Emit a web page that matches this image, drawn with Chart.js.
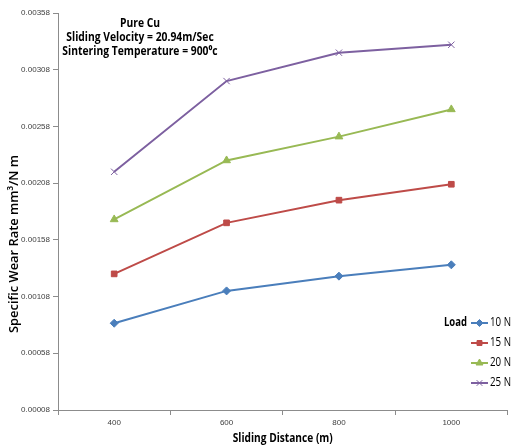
<!DOCTYPE html>
<html>
<head>
<meta charset="utf-8">
<script src="https://cdn.jsdelivr.net/npm/chart.js@4.4.0/dist/chart.umd.min.js"></script>
<style>
html,body{margin:0;padding:0;background:#fff;}
#wrap{width:513px;height:446px;position:relative;}
</style>
</head>
<body>
<div id="wrap"><canvas id="c" width="513" height="446"></canvas></div>
<script>
const distances = ['400', '600', '800', '1000'];
const seriesLabels = ['10 N', '15 N', '20 N', '25 N'];
const load10 = [0.000845, 0.00113, 0.00126, 0.00136];
const load15 = [0.00128, 0.00173, 0.00193, 0.00207];
const load20 = [0.00176, 0.00228, 0.00249, 0.00273];
const load25 = [0.00218, 0.00298, 0.00323, 0.00330];
const yTicks = [0.00008, 0.00058, 0.00108, 0.00158, 0.00208, 0.00258, 0.00308, 0.00358];
const titleLines = ['Pure Cu', 'Sliding Velocity = 20.94m/Sec', 'Sintering Temperature = 900\u2070c'];
const xTitle = 'Sliding Distance (m)';
const yTitle = 'Specific Wear Rate mm\u00B3/N m';
const legendTitle = 'Load';

const colors = ['#4A7EBB', '#BE4B48', '#98B954', '#7D60A0'];
const styles = ['rectRot', 'rect', 'triangle', 'crossRot'];
const radii = [4, 4, 4.5, 4.5];
const allSeries = [load10, load15, load20, load25];

const FONT = "'Open Sans', 'Liberation Sans', sans-serif";

function fitText(ctx, text, x, y, width) {
  const w = ctx.measureText(text).width;
  ctx.save();
  ctx.translate(x, y);
  ctx.scale(width / w, 1);
  ctx.fillText(text, 0, 0);
  ctx.restore();
}
function condText(ctx, text, x, y, factor) {
  ctx.save();
  ctx.translate(x, y);
  ctx.scale(factor, 1);
  ctx.fillText(text, 0, 0);
  ctx.restore();
}

const textPlugin = {
  id: 'texts',
  afterDraw(chart) {
    const ctx = chart.ctx;
    const ca = chart.chartArea;
    ctx.save();
    ctx.fillStyle = '#000';
    ctx.textAlign = 'center';
    ctx.textBaseline = 'middle';
    ctx.font = "bold 12px " + FONT;
    const ty = [24, 38, 52];
    titleLines.forEach((t, i) => condText(ctx, t, 140, ty[i], 0.86));
    // x title
    fitText(ctx, xTitle, (ca.left + ca.right) / 2, 439, 100);
    // y title
    ctx.save();
    ctx.translate(14, 244);
    ctx.rotate(-Math.PI / 2);
    ctx.font = "600 13px " + FONT;
    fitText(ctx, yTitle, 0, 0, 178);
    ctx.restore();
    // legend
    const rows = [323, 343, 363, 383];
    ctx.textAlign = 'left';
    ctx.font = "bold 12px " + FONT;
    fitText(ctx, legendTitle, 444, rows[0], 23);
    ctx.font = "12px " + FONT;
    chart.data.datasets.forEach((ds, i) => {
      const y = rows[i];
      ctx.strokeStyle = ds.borderColor;
      ctx.lineWidth = 2;
      ctx.beginPath();
      ctx.moveTo(471, y);
      ctx.lineTo(488, y);
      ctx.stroke();
      ctx.fillStyle = ds.pointBackgroundColor;
      ctx.strokeStyle = ds.pointBorderColor;
      ctx.lineWidth = 1;
      Chart.helpers.drawPoint(ctx, {pointStyle: ds.pointStyle, radius: ds.pointRadius - 0.5, borderWidth: 1, rotation: 0}, 479.5, y);
      ctx.fillStyle = '#000';
      fitText(ctx, ds.label, 490, y, 21);
    });
    ctx.restore();
  }
};

new Chart(document.getElementById('c'), {
  type: 'line',
  data: {
    labels: distances,
    datasets: allSeries.map((d, i) => ({
      label: seriesLabels[i],
      data: d,
      borderColor: colors[i],
      backgroundColor: colors[i],
      pointBackgroundColor: colors[i],
      pointBorderColor: colors[i],
      pointStyle: styles[i],
      pointRadius: radii[i],
      pointBorderWidth: 1,
      borderWidth: 2,
      tension: 0,
      fill: false
    }))
  },
  options: {
    responsive: false,
    animation: false,
    devicePixelRatio: 1,
    layout: {padding: {left: 0, top: 13, right: 0, bottom: 0}},
    plugins: {legend: {display: false}, tooltip: {enabled: false}, title: {display: false}},
    scales: {
      x: {
        type: 'category',
        offset: true,
        grid: {drawOnChartArea: false, offset: true, tickLength: 5, color: '#8c8c8c'},
        border: {color: '#8c8c8c'},
        ticks: {font: {size: 8, family: "'Liberation Sans', Arial, sans-serif"}, color: '#404040', padding: 3, maxRotation: 0},
        afterFit(s) { s.height = 36; }
      },
      y: {
        min: 0.00008,
        max: 0.00358,
        grid: {drawOnChartArea: false, tickLength: 5, color: '#8c8c8c'},
        border: {color: '#8c8c8c'},
        afterBuildTicks(s) { s.ticks = yTicks.map(v => ({value: v})); },
        ticks: {
          font: {size: 8, family: "'Liberation Sans', Arial, sans-serif"},
          color: '#404040',
          padding: 3,
          callback: v => Number(v).toFixed(5)
        },
        afterFit(s) { s.width = 58; }
      }
    }
  },
  plugins: [textPlugin]
});
</script>
</body>
</html>
